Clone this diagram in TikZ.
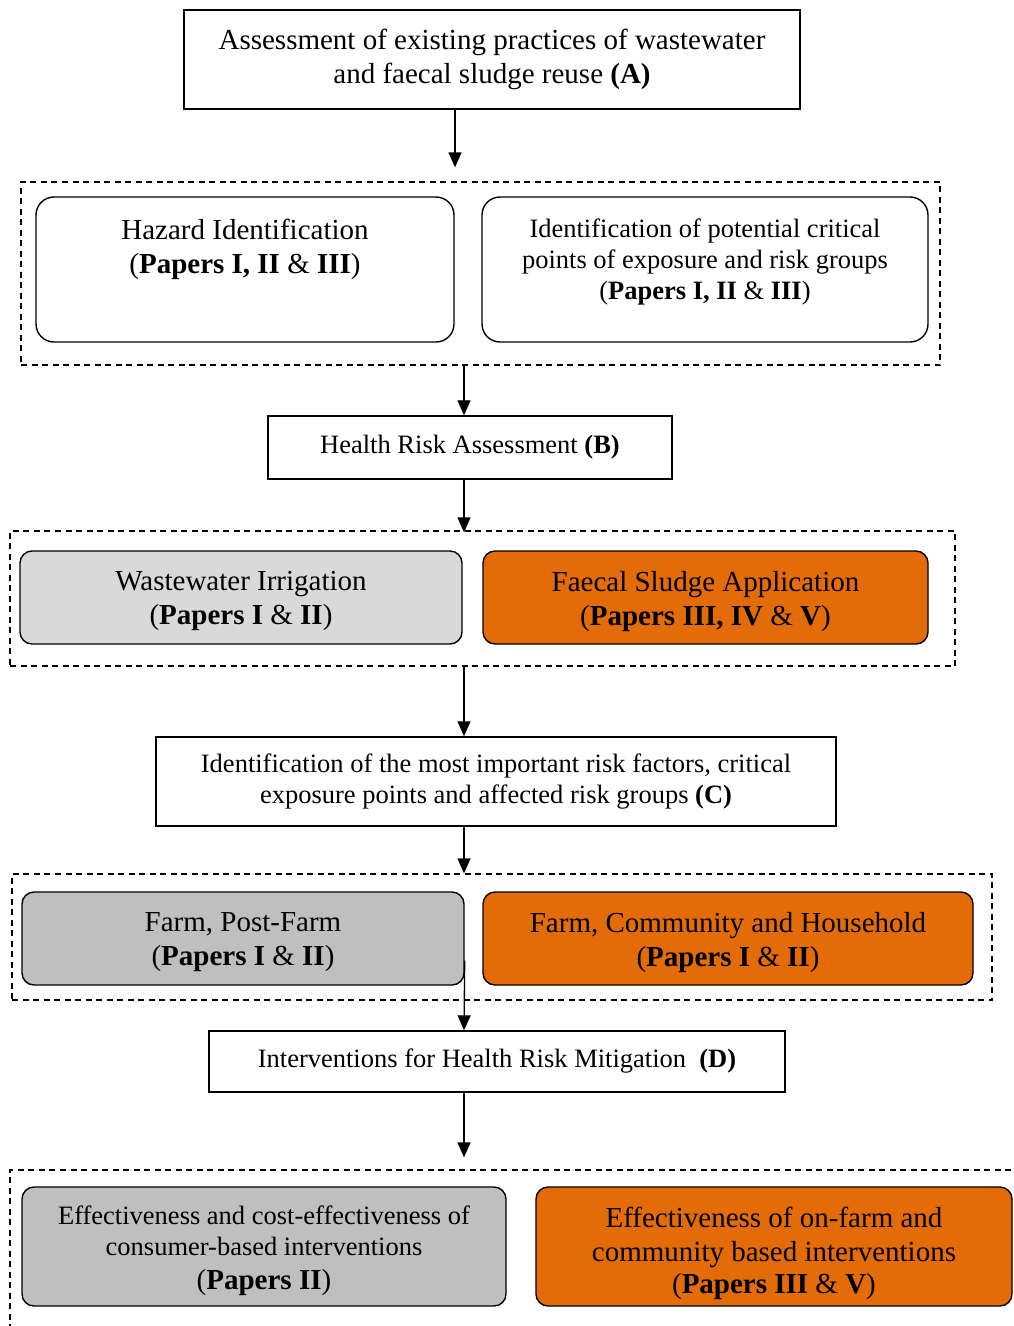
\documentclass[tikz,border=0pt]{standalone}
\usepackage{fontspec}
\setmainfont{Liberation Serif}
\usetikzlibrary{arrows.meta}

\definecolor{sludge}{HTML}{E36C09}
\definecolor{lightgrey}{HTML}{D9D9D9}
\definecolor{midgrey}{HTML}{BFBFBF}

\newcommand{\bigtxt}{\fontsize{29}{34}\selectfont}
\newcommand{\smalltxt}{\fontsize{26.5}{31}\selectfont}
% invisible rules to nudge text inside a box
\newcommand{\uprule}[1]{\rule{0pt}{#1}}
\newcommand{\dnrule}[1]{\rule[-#1]{0pt}{0pt}}

\begin{document}
\begin{tikzpicture}[x=1pt,y=-1pt,>={Triangle[length=15pt,width=13pt]},
  main box/.style={rectangle,draw,line width=1.4pt,inner sep=0pt,align=center},
  round box/.style={main box,rounded corners=12pt},
  group box/.style={rectangle,draw,dashed,dash pattern=on 6pt off 4.5pt,line width=1.3pt,inner sep=0pt}]

 \useasboundingbox (0,0) rectangle (1014,1326);

 % dashed groups
 \node[group box,minimum width=919pt,minimum height=183pt] (grp1) at (480.5,273.5) {};
 \node[group box,minimum width=945pt,minimum height=135pt] (grp2) at (482.5,598.5) {};
 \node[group box,minimum width=980pt,minimum height=126pt] (grp3) at (502,937) {};
 \node[group box,minimum width=1014pt,minimum height=170pt] (grp4) at (517,1255) {};

 \node[main box,minimum width=616pt,minimum height=99pt,font=\bigtxt] (A) at (492,59.5)
   {Assessment of existing practices of wastewater\\and faecal sludge reuse \textbf{(A)}};

 \node[round box,rounded corners=18pt,minimum width=418pt,minimum height=145pt,font=\bigtxt] (hazard) at (245,269.5)
   {Hazard Identification\\(\textbf{Papers I, II} \& \textbf{III})\dnrule{46pt}};
 \node[round box,rounded corners=18pt,minimum width=446pt,minimum height=145pt,font=\smalltxt] (points) at (705,269.5)
   {Identification of potential critical\\points of exposure and risk groups\\(\textbf{Papers I, II} \& \textbf{III})\dnrule{20pt}};

 \node[main box,minimum width=404pt,minimum height=63pt,font=\smalltxt] (B) at (470,447.5)
   {Health Risk Assessment \textbf{(B)}};

 \node[round box,fill=lightgrey,minimum width=442pt,minimum height=93pt,font=\bigtxt] (waste) at (241,597.5)
   {\uprule{27pt}Wastewater Irrigation\\(\textbf{Papers I} \& \textbf{II})};
 \node[round box,fill=sludge,minimum width=445pt,minimum height=93pt,font=\bigtxt] (sludge) at (705.5,597.5)
   {\uprule{28pt}Faecal Sludge Application\\(\textbf{Papers III, IV} \& \textbf{V})};

 \node[main box,minimum width=680pt,minimum height=89pt,font=\smalltxt] (C) at (496,781.5)
   {Identification of the most important risk factors, critical\\exposure points and affected risk groups \textbf{(C)}};

 \node[round box,fill=midgrey,minimum width=442pt,minimum height=93pt,font=\bigtxt] (farm) at (243,938.5)
   {\uprule{27pt}Farm, Post-Farm\\(\textbf{Papers I} \& \textbf{II})};
 \node[round box,fill=sludge,minimum width=490pt,minimum height=93pt,font=\bigtxt] (comm) at (728,938.5)
   {\uprule{28pt}Farm, Community and Household\\(\textbf{Papers I} \& \textbf{II})};

 \node[main box,minimum width=576pt,minimum height=61pt,font=\smalltxt] (D) at (497,1061.5)
   {Interventions for Health Risk Mitigation~ \textbf{(D)}};

 \node[round box,fill=midgrey,minimum width=484pt,minimum height=119pt,font=\smalltxt] (consumer) at (264,1246.5)
   {\uprule{28pt}Effectiveness and cost-effectiveness of\\consumer-based interventions\\[3pt]{\bigtxt(\textbf{Papers II})}};
 \node[round box,fill=sludge,minimum width=476pt,minimum height=119pt,font=\bigtxt] (onfarm) at (774,1246.5)
   {\uprule{34pt}Effectiveness of on-farm and\\community based interventions\\[-2pt](\textbf{Papers III} \& \textbf{V})};

 \path[->,line width=1.3pt]
    ([xshift=-37pt]A.south)     edge [shorten >=14pt] ([xshift=-25.5pt]grp1.north)
    ([xshift=-16.5pt]grp1.south) edge ([xshift=-6pt]B.north)
    ([xshift=-6pt]B.south)      edge [shorten >=-2pt] ([xshift=-18.5pt]grp2.north)
    ([xshift=-18.5pt]grp2.south) edge ([xshift=-32pt]C.north)
    ([xshift=-32pt]C.south)     edge ([xshift=-38pt]grp3.north)
    ([yshift=-22pt]farm.east)   edge ([xshift=-33pt]D.north)
    ([xshift=-33pt]D.south)     edge [shorten >=12pt] ([xshift=-53pt]grp4.north);

\end{tikzpicture}
\end{document}
